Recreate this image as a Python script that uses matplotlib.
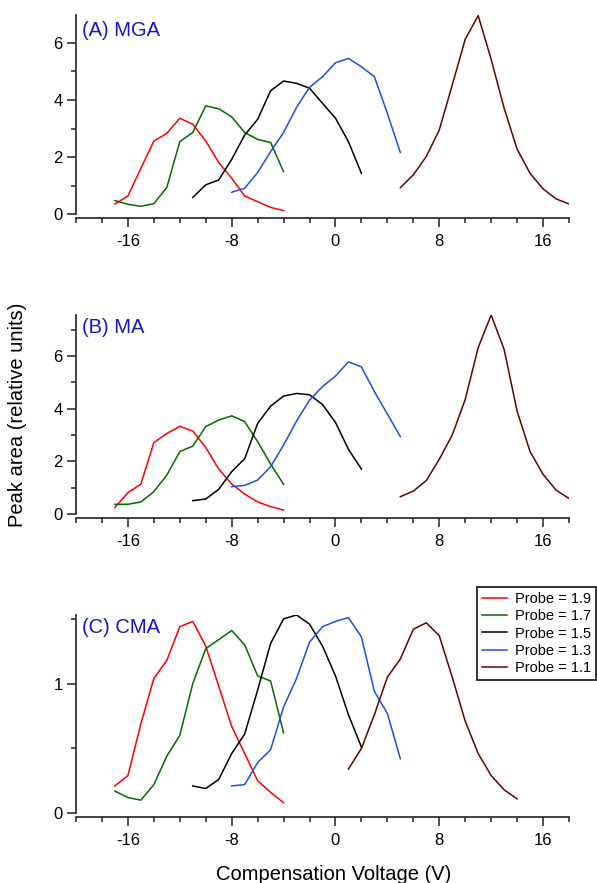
"""Peak area vs compensation voltage for three analytes (MGA, MA, CMA),
one curve per probe setting. Three stacked panels sharing the CV axis."""
import matplotlib
matplotlib.use("Agg")
import matplotlib.pyplot as plt
from matplotlib.ticker import MultipleLocator, FixedLocator

plt.rcParams["font.family"] = ["Liberation Sans", "DejaVu Sans"]
plt.rcParams["axes.unicode_minus"] = False

# --- data -------------------------------------------------------------------
probes = ["1.9", "1.7", "1.5", "1.3", "1.1"]

# compensation voltage (V) of each curve
cv_19 = list(range(-17, -3))
cv_17 = list(range(-17, -3))
cv_15 = list(range(-11, 3))
cv_13 = list(range(-8, 6))
cv_11_ab = list(range(5, 19))
cv_11_c = list(range(1, 15))

# (A) MGA
mga_19 = [0.36, 0.64, 1.61, 2.56, 2.83, 3.36, 3.15, 2.56, 1.81, 1.26, 0.64, 0.44, 0.24, 0.13]
mga_17 = [0.48, 0.35, 0.28, 0.37, 0.94, 2.54, 2.86, 3.79, 3.69, 3.41, 2.86, 2.62, 2.51, 1.49]
mga_15 = [0.59, 1.03, 1.20, 1.92, 2.77, 3.32, 4.32, 4.66, 4.58, 4.41, 3.88, 3.36, 2.54, 1.43]
mga_13 = [0.77, 0.91, 1.46, 2.19, 2.86, 3.74, 4.44, 4.81, 5.30, 5.45, 5.16, 4.81, 3.53, 2.16]
mga_11 = [0.93, 1.38, 2.02, 2.95, 4.52, 6.12, 6.95, 5.42, 3.71, 2.28, 1.43, 0.89, 0.54, 0.36]

# (B) MA
ma_19 = [0.25, 0.81, 1.14, 2.71, 3.06, 3.33, 3.15, 2.53, 1.71, 1.14, 0.76, 0.46, 0.28, 0.15]
ma_17 = [0.37, 0.37, 0.46, 0.85, 1.48, 2.37, 2.58, 3.32, 3.57, 3.73, 3.51, 2.75, 1.90, 1.13]
ma_15 = [0.51, 0.57, 0.94, 1.61, 2.10, 3.44, 4.10, 4.48, 4.58, 4.53, 4.16, 3.48, 2.46, 1.71]
ma_13 = [1.04, 1.09, 1.29, 1.80, 2.62, 3.53, 4.33, 4.84, 5.24, 5.78, 5.59, 4.65, 3.80, 2.94]
ma_11 = [0.66, 0.87, 1.27, 2.08, 3.00, 4.35, 6.32, 7.56, 6.25, 3.91, 2.37, 1.51, 0.91, 0.59]

# (C) CMA
cma_19 = [0.21, 0.29, 0.69, 1.04, 1.18, 1.44, 1.48, 1.29, 0.98, 0.67, 0.46, 0.25, 0.16, 0.08]
cma_17 = [0.17, 0.12, 0.10, 0.22, 0.44, 0.60, 1.00, 1.27, 1.34, 1.41, 1.30, 1.06, 1.02, 0.62]
cma_15 = [0.21, 0.19, 0.26, 0.46, 0.61, 0.95, 1.31, 1.50, 1.53, 1.46, 1.29, 1.06, 0.76, 0.51]
cma_13 = [0.21, 0.22, 0.39, 0.49, 0.82, 1.04, 1.32, 1.44, 1.48, 1.51, 1.36, 0.94, 0.77, 0.42]
cma_11 = [0.34, 0.50, 0.76, 1.05, 1.19, 1.42, 1.47, 1.37, 1.05, 0.71, 0.46, 0.29, 0.18, 0.11]

# --- style / layout ---------------------------------------------------------
colors = ["#ff0000", "#006b00", "#000000", "#1a4fe6", "#660000"]
label_blue = "#1414cc"

W, H = 597, 883
left_px, right_px = 76, 569
# (title, top px, x-axis px, ylim, y major, y minor, label top frac)
panels = [
    ("(A) MGA", 15, 218, (-0.13, 6.97), 2, 1, 0.97),
    ("(B) MA", 315, 518, (-0.15, 7.56), 2, 1, 0.985),
    ("(C) CMA", 615, 817, (-0.03, 1.53), 1, 0.5, 0.985),
]

fig = plt.figure(figsize=(W / 100, H / 100), dpi=100)

series = [
    [(cv_19, mga_19), (cv_17, mga_17), (cv_15, mga_15), (cv_13, mga_13), (cv_11_ab, mga_11)],
    [(cv_19, ma_19), (cv_17, ma_17), (cv_15, ma_15), (cv_13, ma_13), (cv_11_ab, ma_11)],
    [(cv_19, cma_19), (cv_17, cma_17), (cv_15, cma_15), (cv_13, cma_13), (cv_11_c, cma_11)],
]

axes = []
for (title, top, bot, ylim, ymaj, ymin, ty), curves in zip(panels, series):
    ax = fig.add_axes([left_px / W, 1 - bot / H,
                       (right_px - left_px) / W, (bot - top) / H])
    lines = []
    for (xs, ys), c, p in zip(curves, colors, probes):
        ln, = ax.plot(xs, ys, color=c, lw=1.1, label=f"Probe = {p}")
        lines.append(ln)

    ax.set_xlim(-20, 18)
    ax.set_ylim(*ylim)
    ax.xaxis.set_major_locator(FixedLocator([-16, -8, 0, 8, 16]))
    ax.xaxis.set_minor_locator(MultipleLocator(2))
    ax.yaxis.set_major_locator(MultipleLocator(ymaj))
    ax.yaxis.set_minor_locator(MultipleLocator(ymin))
    ax.yaxis.set_major_formatter(plt.FuncFormatter(lambda v, _: f"{v:g}"))

    for s in ("top", "right"):
        ax.spines[s].set_visible(False)
    for s in ("left", "bottom"):
        ax.spines[s].set_color("#222222")
        ax.spines[s].set_linewidth(1.2)
    ax.spines["left"].set_bounds(0, ylim[1])
    ax.tick_params(which="both", direction="out", color="#222222", width=1.1,
                   labelsize=12, pad=3)
    ax.tick_params(which="major", length=6.5)
    ax.tick_params(which="minor", length=3.5)
    ax.tick_params(axis="x", which="major", pad=5)

    ax.text(0.012, ty, title, transform=ax.transAxes, color=label_blue,
            fontsize=14.5, ha="left", va="top")
    axes.append((ax, lines))

fig.text(18 / W, 1 - 415 / H, "Peak area (relative units)", fontsize=14.5,
         rotation=90, ha="center", va="center")

fig.text(334 / W, 1 - 880 / H, "Compensation Voltage (V)", fontsize=14.5,
         ha="center", va="baseline")

ax_c, lines_c = axes[2]
leg = ax_c.legend(handles=lines_c, loc="upper right",
                  bbox_to_anchor=(596 / W, 1 - 587 / H),
                  bbox_transform=fig.transFigure, borderaxespad=0,
                  fontsize=10.5, frameon=True, fancybox=False,
                  handlelength=1.7, handletextpad=0.55, labelspacing=0.22,
                  borderpad=0.35)
leg.get_frame().set_edgecolor("black")
leg.get_frame().set_linewidth(1.4)

fig.savefig("out.png", dpi=100)
